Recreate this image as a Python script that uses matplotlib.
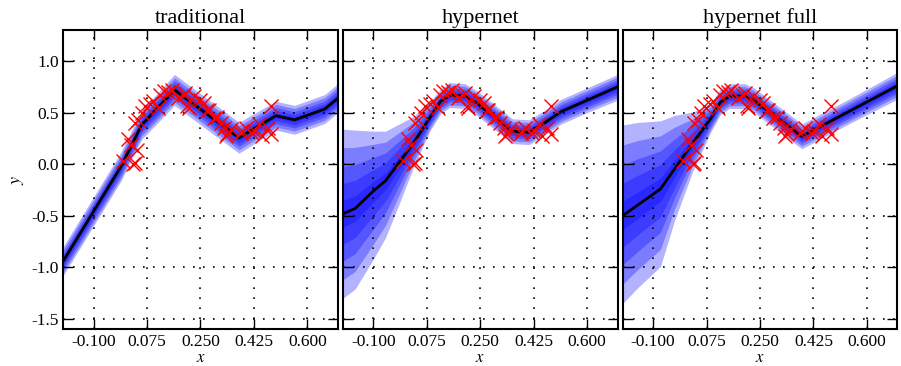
import numpy as np
import matplotlib
matplotlib.use('Agg')
import matplotlib.pyplot as plt

plt.rcParams['font.family'] = ['Liberation Serif', 'DejaVu Serif']
plt.rcParams['mathtext.fontset'] = 'stix'

# observed data points (red crosses)
x_obs = [-0.003, 0.013, 0.024, 0.035, 0.041, 0.035, 0.046, 0.057, 0.068, 0.085,
         0.096, 0.112, 0.118, 0.129, 0.145, 0.156, 0.178, 0.195, 0.200, 0.206,
         0.211, 0.228, 0.250, 0.261, 0.272, 0.277, 0.294, 0.305, 0.316, 0.327,
         0.332, 0.338, 0.349, 0.382, 0.387, 0.398, 0.420, 0.426, 0.442, 0.453,
         0.470, 0.481, 0.481, 0.030]
y_obs = [0.03, 0.24, 0.19, 0.016, 0.14, 0.40, 0.43, 0.50, 0.56, 0.58,
         0.61, 0.545, 0.67, 0.705, 0.70, 0.72, 0.64, 0.67, 0.69, 0.56,
         0.545, 0.66, 0.625, 0.59, 0.53, 0.53, 0.45, 0.46, 0.40, 0.35,
         0.27, 0.29, 0.34, 0.30, 0.32, 0.35, 0.30, 0.32, 0.385, 0.27,
         0.35, 0.56, 0.29, 0.0]

# traditional: mean and outer band half-widths
x_trad = [-0.2, -0.01, 0.057, 0.165, 0.376, 0.497, 0.558, 0.657, 0.7]
m_trad = [-0.94, -0.02, 0.38, 0.72, 0.257, 0.47, 0.43, 0.535, 0.64]
hi_trad = [0.14, 0.14, 0.14, 0.15, 0.15, 0.14, 0.14, 0.14, 0.14]
lo_trad = [0.14, 0.14, 0.14, 0.15, 0.15, 0.14, 0.14, 0.14, 0.14]

# hypernet
x_hyp = [-0.2, -0.16, -0.1, -0.06, -0.015, 0.03, 0.085, 0.12, 0.15, 0.2,
         0.24, 0.3, 0.355, 0.41, 0.46, 0.515, 0.6, 0.7]
m_hyp = [-0.48, -0.43, -0.26, -0.16, 0.02, 0.20, 0.45, 0.61, 0.67, 0.66,
         0.59, 0.45, 0.32, 0.31, 0.40, 0.51, 0.62, 0.75]
hi_hyp = [0.82, 0.76, 0.58, 0.48, 0.37, 0.26, 0.15, 0.12, 0.12, 0.12,
          0.12, 0.12, 0.12, 0.12, 0.12, 0.12, 0.12, 0.12]
lo_hyp = [0.82, 0.78, 0.66, 0.55, 0.40, 0.24, 0.13, 0.12, 0.12, 0.12,
          0.12, 0.12, 0.12, 0.12, 0.12, 0.12, 0.12, 0.13]

# hypernet full
x_full = [-0.2, -0.15, -0.076, -0.03, 0.03, 0.09, 0.12, 0.15, 0.2, 0.23,
          0.387, 0.55, 0.7]
m_full = [-0.5, -0.395, -0.24, -0.047, 0.205, 0.45, 0.60, 0.66, 0.66, 0.62,
          0.27, 0.525, 0.76]
hi_full = [0.88, 0.80, 0.66, 0.52, 0.30, 0.14, 0.13, 0.12, 0.12, 0.12,
           0.12, 0.12, 0.13]
lo_full = [0.85, 0.80, 0.75, 0.50, 0.27, 0.13, 0.12, 0.12, 0.12, 0.12,
           0.12, 0.12, 0.13]

# relative width of each nested band (outer -> inner)
band_frac = [1.0, 0.78, 0.56, 0.36, 0.16]

titles = ['traditional', 'hypernet', 'hypernet full']
panels = [(x_trad, m_trad, hi_trad, lo_trad),
          (x_hyp, m_hyp, hi_hyp, lo_hyp),
          (x_full, m_full, hi_full, lo_full)]
xticks = [-0.1, 0.075, 0.25, 0.425, 0.6]
yticks = [-1.5, -1.0, -0.5, 0.0, 0.5, 1.0]

fig, axes = plt.subplots(1, 3, figsize=(9.01, 3.66), dpi=100, sharey=True)
fig.subplots_adjust(left=0.07, right=0.996, top=0.918, bottom=0.1, wspace=0.018)

for ax, title, (xs, m, hi, lo) in zip(axes, titles, panels):
    xs = np.array(xs); m = np.array(m); hi = np.array(hi); lo = np.array(lo)
    for f in band_frac:
        ax.fill_between(xs, m - f * lo, m + f * hi, color='blue', alpha=0.3, lw=0)
    ax.plot(xs, m, color='black', lw=2, zorder=3)
    ax.plot(x_obs, y_obs, 'x', color='red', ms=10, mew=1, zorder=4)
    ax.set_xlim(-0.2, 0.7)
    ax.set_ylim(-1.6, 1.3)
    ax.set_xticks(xticks)
    ax.set_xticklabels(['%.3f' % t for t in xticks])
    ax.set_yticks(yticks)
    ax.grid(True, color='black', linestyle=(0, (1, 5)), lw=1.2)
    ax.tick_params(direction='in', top=True, right=True, length=7, width=1,
                   labelsize=12.5, pad=3)
    for s in ax.spines.values():
        s.set_linewidth(1.5)
    ax.set_title(title, fontsize=16, pad=5)
    ax.set_xlabel('$x$', fontsize=12, labelpad=0)

axes[0].set_yticklabels(['%.1f' % t for t in yticks])
axes[0].set_ylabel('$y$', fontsize=13, labelpad=4)
for ax in axes[1:]:
    ax.tick_params(labelleft=False)

fig.savefig('out.png', dpi=100)
